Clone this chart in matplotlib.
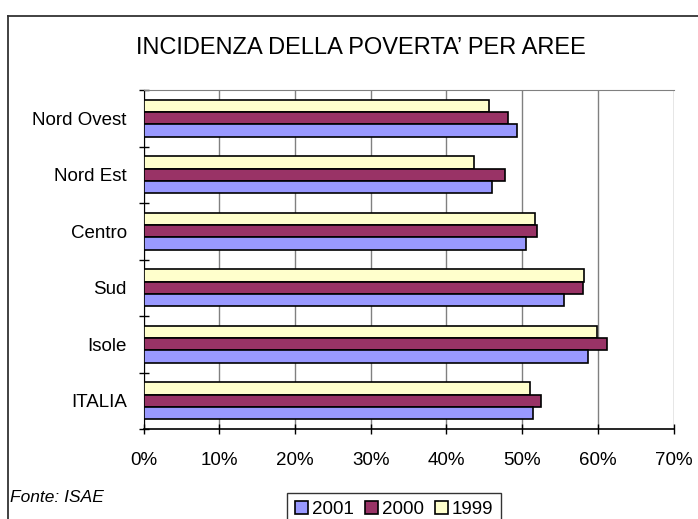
import numpy as np
from matplotlib import pyplot as plt
from matplotlib.lines import Line2D
from matplotlib.ticker import FuncFormatter

areas = ["Nord Ovest", "Nord Est", "Centro", "Sud", "Isole", "ITALIA"]
y1999 = [45.6, 43.7, 51.7, 58.2, 59.9, 51.0]
y2000 = [48.2, 47.7, 52.0, 58.0, 61.2, 52.5]
y2001 = [49.3, 46.0, 50.5, 55.5, 58.7, 51.4]

plt.rcParams['font.family'] = ['Liberation Sans', 'DejaVu Sans']

fig = plt.figure(figsize=(6.98, 5.19), dpi=100)
ax = fig.add_axes([143.5 / 698, 1 - 429 / 519, 530 / 698, 339 / 519])

pos = np.arange(len(areas))
h = 0.218
ax.barh(pos - h, y1999, height=h, color="#FFFFCC", edgecolor="black", lw=1.2, label="1999", zorder=3)
ax.barh(pos, y2000, height=h, color="#993366", edgecolor="black", lw=1.2, label="2000", zorder=3)
ax.barh(pos + h, y2001, height=h, color="#9999FF", edgecolor="black", lw=1.2, label="2001", zorder=3)

ax.set_xlim(0, 70)
ax.set_ylim(len(areas) - 0.5, -0.5)
ax.set_xticks(range(0, 71, 10))
ax.xaxis.set_major_formatter(FuncFormatter(lambda v, p: "%d%%" % v))
ax.set_yticks(pos)
ax.set_yticklabels(areas)
ax.set_yticks(np.arange(-0.5, len(areas), 1), minor=True)
ax.tick_params(axis="y", which="major", length=0, pad=12, labelsize=13.5)
ax.tick_params(axis="y", which="minor", length=7, direction="inout", width=1)
ax.tick_params(axis="x", which="major", length=7, direction="inout", width=1, pad=13, labelsize=13.5)
ax.grid(axis="x", color="#808080", lw=1, zorder=0)
ax.spines["top"].set_color("#808080")
ax.spines["right"].set_visible(False)
ax.spines["left"].set_color("black")
ax.spines["bottom"].set_color("black")
ax.spines["bottom"].set_linewidth(1.2)

fig.text(361 / 698, 1 - 48 / 519, "INCIDENZA DELLA POVERTA\u2019 PER AREE",
         ha="center", va="center", fontsize=17)
fig.text(10 / 698, 1 - 497 / 519, "Fonte: ISAE", ha="left", va="center",
         fontsize=12.5, style="italic")

handles, labels = ax.get_legend_handles_labels()
leg = fig.legend(handles[::-1], labels[::-1], loc="upper center",
                 bbox_to_anchor=(394 / 698, 1 - 484 / 519), ncol=3,
                 frameon=True, fancybox=False, edgecolor="black", fontsize=13.5,
                 handlelength=0.7, handleheight=0.7, handletextpad=0.2,
                 columnspacing=0.6, borderpad=0.4)
leg.get_frame().set_linewidth(1)

# outer chart frame (top and left edges only visible)
top = 1 - 15.5 / 519
fig.add_artist(Line2D([8 / 698, 1], [top, top], transform=fig.transFigure,
                      color="#333333", lw=1.3))
fig.add_artist(Line2D([8 / 698, 8 / 698], [0, top], transform=fig.transFigure,
                      color="#333333", lw=1.3))

fig.savefig("out.png", dpi=100)
